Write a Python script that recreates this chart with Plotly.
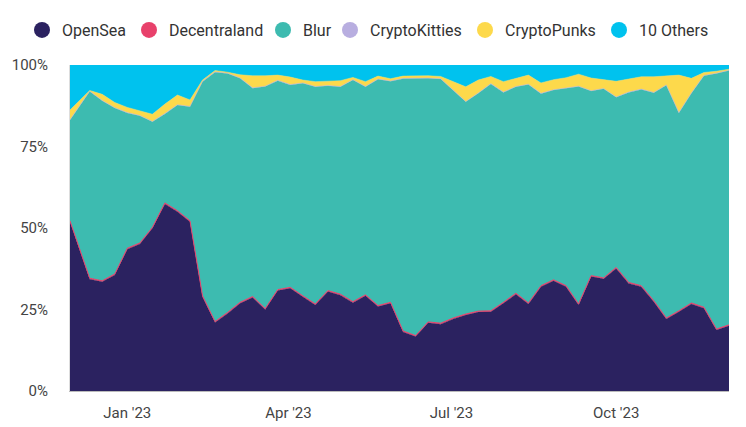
import plotly.graph_objects as go

dates = ["2022-11-30", "2022-12-11", "2022-12-18", "2022-12-25",
         "2023-01-01", "2023-01-08", "2023-01-15", "2023-01-22", "2023-01-29",
         "2023-02-05", "2023-02-12", "2023-02-19", "2023-02-26",
         "2023-03-05", "2023-03-12", "2023-03-19", "2023-03-26",
         "2023-04-02", "2023-04-09", "2023-04-16", "2023-04-23", "2023-04-30",
         "2023-05-07", "2023-05-14", "2023-05-21", "2023-05-28",
         "2023-06-04", "2023-06-11", "2023-06-18", "2023-06-25",
         "2023-07-02", "2023-07-09", "2023-07-16", "2023-07-23", "2023-07-30",
         "2023-08-06", "2023-08-13", "2023-08-20", "2023-08-27",
         "2023-09-03", "2023-09-10", "2023-09-17", "2023-09-24",
         "2023-10-01", "2023-10-08", "2023-10-15", "2023-10-22", "2023-10-29",
         "2023-11-05", "2023-11-12", "2023-11-19", "2023-11-26", "2023-12-03"]

opensea = [51.9, 34.3, 33.5, 35.6, 43.5, 45.1, 49.9, 57.4, 55.0, 51.9, 28.9, 21.0, 23.8,
           26.9, 28.7, 25.0, 30.8, 31.5, 28.9, 26.4, 30.5, 29.4, 27.1, 29.2, 25.9, 26.9,
           18.1, 16.7, 20.9, 20.5, 22.1, 23.3, 24.2, 24.3, 26.9, 29.7, 26.7, 32.0, 33.8,
           32.0, 26.4, 35.1, 34.4, 37.6, 33.0, 32.0, 27.4, 22.1, 24.3, 26.7, 25.4, 18.7, 20.0]

decentraland = [0.3, 0.3, 0.3, 0.3, 0.3, 0.3, 0.3, 0.3, 0.3, 0.3, 0.3, 0.3, 0.3,
                0.3, 0.3, 0.3, 0.3, 0.3, 0.3, 0.3, 0.3, 0.3, 0.3, 0.3, 0.3, 0.3,
                0.3, 0.3, 0.3, 0.3, 0.3, 0.3, 0.3, 0.3, 0.3, 0.3, 0.3, 0.3, 0.3,
                0.3, 0.3, 0.3, 0.3, 0.3, 0.3, 0.3, 0.3, 0.3, 0.3, 0.3, 0.3, 0.3, 0.3]

blur = [30.9, 57.3, 55.2, 50.9, 41.5, 39.0, 32.4, 27.3, 32.4, 35.0, 65.7, 76.5, 73.3,
        68.7, 63.9, 68.1, 64.1, 62.1, 65.2, 66.6, 62.8, 63.6, 68.0, 63.8, 69.4, 67.8,
        77.4, 78.9, 74.7, 74.9, 69.9, 65.1, 66.8, 69.6, 64.4, 63.3, 67.0, 58.9, 58.2,
        60.6, 66.7, 56.6, 58.0, 52.2, 58.3, 60.2, 63.8, 71.4, 60.7, 64.3, 71.0, 78.4, 78.0]

cryptokitties = [0.1, 0.1, 0.1, 0.1, 0.1, 0.1, 0.1, 0.1, 0.1, 0.1, 0.1, 0.1, 0.1,
                 0.1, 0.1, 0.1, 0.1, 0.1, 0.1, 0.1, 0.1, 0.1, 0.1, 0.1, 0.1, 0.1,
                 0.1, 0.1, 0.1, 0.1, 0.1, 0.1, 0.1, 0.1, 0.1, 0.1, 0.1, 0.1, 0.1,
                 0.1, 0.1, 0.1, 0.1, 0.1, 0.1, 0.1, 0.1, 0.1, 0.1, 0.1, 0.1, 0.1, 0.1]

cryptopunks = [3.0, 0.2, 1.9, 1.6, 1.6, 1.5, 2.2, 2.9, 3.0, 2.0, 0.4, 0.4, 0.3,
               1.0, 3.7, 3.2, 1.6, 2.3, 0.9, 1.5, 1.3, 1.8, 0.7, 1.5, 0.9, 0.7,
               0.7, 0.7, 0.7, 0.7, 2.6, 4.5, 4.0, 2.2, 3.2, 2.6, 2.8, 3.2, 3.1,
               3.1, 3.7, 3.9, 2.7, 4.8, 4.0, 3.8, 4.8, 2.8, 11.5, 4.5, 0.9, 0.6, 0.3]

others = [13.8, 7.8, 9.0, 11.5, 13.0, 14.0, 15.1, 12.0, 9.2, 10.7, 4.6, 1.7, 2.2,
          3.0, 3.3, 3.3, 3.1, 3.7, 4.6, 5.1, 5.0, 4.8, 3.8, 5.1, 3.4, 4.2,
          3.4, 3.3, 3.3, 3.5, 5.0, 6.7, 4.6, 3.5, 5.1, 4.0, 3.1, 5.5, 4.5,
          3.9, 2.8, 4.0, 4.5, 5.0, 4.3, 3.6, 3.6, 3.3, 3.1, 4.1, 2.3, 1.9, 1.3]

names = ["OpenSea", "Decentraland", "Blur", "CryptoKitties", "CryptoPunks", "10 Others"]
series = [opensea, decentraland, blur, cryptokitties, cryptopunks, others]
colors = ["#2b2260", "#e8416b", "#3dbbb0", "#b8aee0", "#fdd94b", "#00c2ee"]

y_ticks = [0, 25, 50, 75, 100]
y_labels = ["0%", "25%", "50%", "75%", "100%"]
x_ticks = ["2023-01-01", "2023-04-01", "2023-07-01", "2023-10-01"]

FONT = "Roboto, Arial, sans-serif"
W, H = 738, 419
legend_x_px = [14, 121, 255, 322, 457, 591]

fig = go.Figure()
for name, vals, col in zip(names, series, colors):
    lw = 1 if name == "Decentraland" else 0.5
    fig.add_trace(go.Scatter(
        x=dates, y=vals, name=name, mode="lines", stackgroup="one",
        line=dict(color=col, width=lw), fillcolor=col, showlegend=False,
    ))

legend_layout = {}
for i, (name, col) in enumerate(zip(names, colors)):
    key = "legend" if i == 0 else f"legend{i + 1}"
    fig.add_trace(go.Scatter(
        x=[None], y=[None], name=name, mode="markers", legend=key,
        marker=dict(size=16, color=col, symbol="circle"),
    ))
    legend_layout[key] = dict(
        orientation="h", x=legend_x_px[i] / W, y=0.988,
        xref="container", yref="container", xanchor="left", yanchor="top",
        font=dict(family=FONT, size=16, color="#333"), itemwidth=30,
        bgcolor="rgba(0,0,0,0)",
    )

fig.update_layout(
    width=W, height=H,
    margin=dict(l=62, r=17, t=57, b=36, autoexpand=False),
    paper_bgcolor="white", plot_bgcolor="white",
    font=dict(family=FONT, size=15, color="#444"),
    xaxis=dict(type="date", range=["2022-11-30", "2023-12-03"], automargin=False,
               tickvals=x_ticks, tickformat="%b '%y", showgrid=False,
               showline=True, linecolor="#bbbbbb", linewidth=1, ticks="",
               ticklabelstandoff=8, tickfont=dict(size=15, color="#444")),
    yaxis=dict(range=[0, 100], tickvals=y_ticks, ticktext=y_labels, showgrid=False,
               automargin=False,
               showline=True, linecolor="#dddddd", linewidth=1, ticks="",
               ticklabelstandoff=18, tickfont=dict(size=15, color="#444")),
    **legend_layout,
)

fig.write_html("out.html")
